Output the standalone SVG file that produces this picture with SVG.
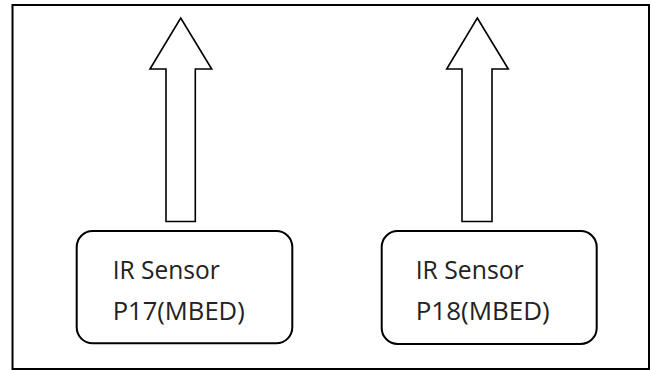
<svg xmlns="http://www.w3.org/2000/svg" width="651" height="370" viewBox="0 0 651 370">
  <style>
    .frame { fill: #ffffff; stroke: #000000; stroke-width: 2; }
    .box { fill: #ffffff; stroke: #000000; stroke-width: 2; }
    .arrow { fill: #ffffff; stroke: #000000; stroke-width: 1.6; stroke-linejoin: miter; }
    .label { font-family: "Open Sans", "Liberation Sans", sans-serif; font-size: 25.5px; fill: #222222; }
  </style>
  <rect width="651" height="370" fill="#ffffff"/>
  <rect class="frame" x="12.5" y="5" width="636.5" height="364"/>
  <g id="connectors">
    <polygon class="arrow" points="180.7,18 211.7,69 195.3,69 195.3,221.5 166,221.5 166,69 150,69"/>
    <polygon class="arrow" points="477.3,18 508.3,69 492,69 492,221.5 462,221.5 462,69 446.7,69"/>
  </g>
  <g id="node-p17">
    <rect class="box" x="76.7" y="231" width="215.6" height="112.3" rx="16" ry="16"/>
    <text class="label" x="112.7" y="279.3" textLength="107" lengthAdjust="spacingAndGlyphs">IR Sensor</text>
    <text class="label" x="112.7" y="320" textLength="132" lengthAdjust="spacingAndGlyphs">P17(MBED)</text>
  </g>
  <g id="node-p18">
    <rect class="box" x="381.7" y="231" width="215" height="113" rx="16" ry="16"/>
    <text class="label" x="415.7" y="279.3" textLength="108" lengthAdjust="spacingAndGlyphs">IR Sensor</text>
    <text class="label" x="415.7" y="320" textLength="134" lengthAdjust="spacingAndGlyphs">P18(MBED)</text>
  </g>
</svg>
